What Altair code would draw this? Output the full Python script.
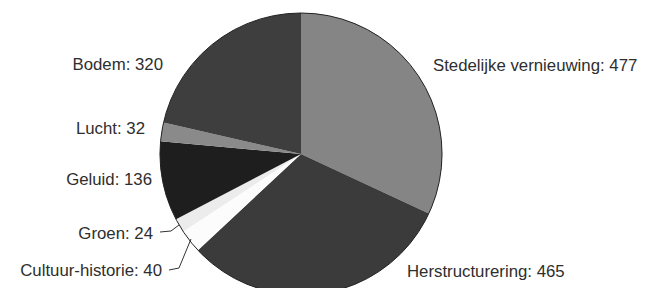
import altair as alt
import pandas as pd

# ---- data ----
categories = ["Stedelijke vernieuwing", "Herstructurering", "Cultuur-historie",
              "Groen", "Geluid", "Lucht", "Bodem"]
values = [477, 465, 40, 24, 136, 32, 320]
colors = ["#858585", "#3b3b3b", "#fcfcfc", "#ececec", "#1e1e1e", "#8a8a8a", "#3e3e3e"]

# ---- layout (page pixel coordinates) ----
MARGIN = 8
W, H = 636, 280
CX, CY, R = 301, 154, 141
label_x = [433, 407, 162, 153, 152, 145, 163]
label_y = [71, 277, 276, 239, 185, 134, 70]
label_align = ["left", "left", "right", "right", "right", "right", "right"]

leader_names = ["Groen", "Groen", "Groen", "Cultuur-historie", "Cultuur-historie", "Cultuur-historie"]
leader_x = [160, 171, 179, 169, 179, 191]
leader_y = [232, 231, 225, 270, 268, 239]

df = pd.DataFrame({
    "cat": categories,
    "value": values,
    "idx": list(range(len(categories))),
    "label": [f"{c}: {v}" for c, v in zip(categories, values)],
    "lx": [x - MARGIN for x in label_x],
    "ly": [y - MARGIN for y in label_y],
    "align": label_align,
})
lead = pd.DataFrame({
    "cat": leader_names,
    "px": [x - MARGIN for x in leader_x],
    "py": [y - MARGIN for y in leader_y],
    "o": list(range(len(leader_names))),
})

xs = alt.Scale(domain=[0, W], range=[0, W], nice=False, zero=False)
ys = alt.Scale(domain=[0, H], range=[0, H], nice=False, zero=False)

pie = alt.Chart(df).mark_arc(radius=R).encode(
    theta=alt.Theta("value:Q", stack=True),
    order=alt.Order("idx:Q"),
    color=alt.Color("cat:N", scale=alt.Scale(domain=categories, range=colors), legend=None),
    x=alt.value(CX - MARGIN),
    y=alt.value(CY - MARGIN),
)

outline = alt.Chart(pd.DataFrame({"a": [0]})).mark_arc(
    radius=R, theta=0, theta2=6.2832, fillOpacity=0, stroke="#222222", strokeWidth=1
).encode(x=alt.value(CX - MARGIN), y=alt.value(CY - MARGIN))

def text_layer(al):
    return alt.Chart(df).transform_filter(alt.datum.align == al).mark_text(
        align=al, baseline="alphabetic", font="Liberation Sans", fontSize=16.8, color="#2e2e2e"
    ).encode(
        x=alt.X("lx:Q", scale=xs, axis=None),
        y=alt.Y("ly:Q", scale=ys, axis=None),
        text="label:N",
    )

leaders = alt.Chart(lead).mark_line(color="#333333", strokeWidth=1).encode(
    x=alt.X("px:Q", scale=xs, axis=None),
    y=alt.Y("py:Q", scale=ys, axis=None),
    detail="cat:N",
    order="o:Q",
)

chart = alt.layer(pie, outline, leaders, text_layer("left"), text_layer("right")).properties(
    width=W, height=H, padding=0, autosize=alt.AutoSizeParams(type="none"),
    background="white",
).configure_view(strokeWidth=0)

chart.save("out.html", embed_options={"renderer": "svg", "actions": False})
